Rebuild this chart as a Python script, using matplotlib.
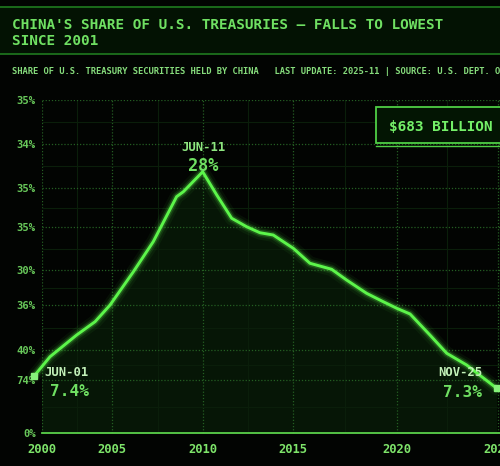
import matplotlib
matplotlib.use("Agg")
import matplotlib.pyplot as plt
from matplotlib.patches import Rectangle
from matplotlib.lines import Line2D
import numpy as np

# ---------------- data ----------------
years = [1999.58, 2000.44, 2001.90, 2002.91, 2003.73, 2005.01, 2006.10, 2007.38,
         2007.75, 2008.81, 2009.58, 2010.40, 2011.22, 2011.95, 2012.68, 2013.78,
         2014.69, 2015.88, 2016.70, 2017.80, 2018.71, 2019.45, 2020.18, 2021.27,
         2022.19, 2023.28, 2024.93]
share = [6.02, 8.02, 10.30, 11.70, 13.45, 16.95, 20.11, 24.84,
         25.36, 27.46, 25.02, 22.57, 21.68, 21.05, 20.81, 19.41,
         17.84, 17.21, 16.08, 14.68, 13.80, 13.11, 12.51, 10.30,
         8.38, 7.15, 4.70]
x_tick_pos = [2000, 2003.84, 2008.83, 2013.77, 2019.46, 2025]
x_tick_labels = ["2000", "2005", "2010", "2015", "2020", "2025"]
y_tick_pos = [35, 30.38, 25.75, 21.65, 17.13, 13.45, 8.72, 5.57, 0]
y_tick_labels = ["35%", "34%", "35%", "35%", "30%", "36%", "40%", "74%", "0%"]
title = "CHINA'S SHARE OF U.S. TREASURIES \u2014 FALLS TO LOWEST\nSINCE 2001"
subtitle = ("SHARE OF U.S. TREASURY SECURITIES HELD BY CHINA   "
            "LAST UPDATE: 2025-11 | SOURCE: U.S. DEPT. OF THE TREASURY")
callout = "$683 BILLION"
start_label, start_value = "JUN-01", "7.4%"
peak_label, peak_value = "JUN-11", "28%"
end_label, end_value = "NOV-25", "7.3%"

# ---------------- style ----------------
BG = "#020402"
LINE = "#5cf54a"
GRID = "#245e22"
MINOR = "#0a1e0a"
TXT = "#6fe062"
PALE = "#c2f0b8"
MONO = "DejaVu Sans Mono"

fig = plt.figure(figsize=(5.0, 4.66), dpi=100, facecolor=BG)

# title band
fig.add_artist(Rectangle((0, 0.884), 1, 0.101, transform=fig.transFigure,
                         facecolor="#031203", edgecolor="none", zorder=0))
for yy in (0.985, 0.884):
    fig.add_artist(Line2D([0, 1], [yy, yy], transform=fig.transFigure,
                          color="#1f7a1f", lw=1.2))
fig.text(0.024, 0.929, title, family=MONO, fontsize=10.4, color=TXT,
         fontweight="bold", ha="left", va="center", linespacing=1.12)
fig.text(0.024, 0.8455, subtitle, family=MONO, fontsize=6.3, color="#86dc7c",
         fontweight="bold", ha="left", va="center")

# axes
ax = fig.add_axes([0.084, 0.0708, 0.936, 0.7146])
ax.set_facecolor(BG)
ax.set_xlim(2000, 2025.66)
ax.set_ylim(0, 35)

# minor grid (faint, solid)
xm = [(a + b) / 2 for a, b in zip(x_tick_pos[:-1], x_tick_pos[1:])]
ym = [(a + b) / 2 for a, b in zip(y_tick_pos[1:], y_tick_pos[:-1])]
ax.set_xticks(xm, minor=True)
ax.set_yticks(ym, minor=True)
ax.grid(which="minor", color=MINOR, lw=0.8, ls="-")
ax.set_xticks(x_tick_pos, x_tick_labels)
ax.set_yticks(y_tick_pos, y_tick_labels)
ax.grid(which="major", color=GRID, lw=0.9, ls=(0, (1, 1.5)))
ax.tick_params(which="both", length=0)
ax.tick_params(axis="x", pad=7, labelcolor="#7ee46a", labelsize=8.7)
ax.tick_params(axis="y", pad=4.5, labelcolor="#68c85a", labelsize=7.6)
for lab in ax.get_xticklabels():
    lab.set_family(MONO); lab.set_fontweight("bold")
for lab in ax.get_yticklabels():
    lab.set_family(MONO); lab.set_fontweight("bold")
for s in ("top", "right", "left"):
    ax.spines[s].set_visible(False)
ax.spines["bottom"].set_color("#5ad04a")
ax.spines["bottom"].set_linestyle((0, (1, 1)))
ax.spines["bottom"].set_linewidth(1.3)

# area fill
ax.fill_between(years, share, 0, color="#0f3a0f", alpha=0.35, lw=0, zorder=1)

# glow line
for lw, a in ((10, 0.05), (6.5, 0.10), (4.2, 0.22)):
    ax.plot(years, share, color=LINE, lw=lw, alpha=a, clip_on=False,
            solid_capstyle="round", solid_joinstyle="round", zorder=3)
ax.plot(years, share, color=LINE, lw=2.1, clip_on=False,
        solid_joinstyle="round", zorder=4)
ax.plot([years[0], years[-1]], [share[0], share[-1]], ls="none", marker="s",
        ms=5, color="#86f27a", clip_on=False, zorder=5)

# annotations
i_peak = int(np.argmax(share))
def ann(txt, xy, off, size, color, ha, weight="bold"):
    ax.annotate(txt, xy=xy, xytext=off, textcoords="offset pixels",
                ha=ha, va="center", fontsize=size, color=color,
                family=MONO, fontweight=weight, annotation_clip=False, zorder=6)

ann(start_label, (years[0], share[0]), (10, 3), 8.8, PALE, "left")
ann(start_value, (years[0], share[0]), (16, -16), 11.6, TXT, "left")
ann(peak_label, (years[i_peak], share[i_peak]), (1, 24), 8.8, "#8ee680", "center")
ann(peak_value, (years[i_peak], share[i_peak]), (1, 6), 12.2, TXT, "center")
ann(end_label, (years[-1], share[-1]), (-14, 16), 8.8, PALE, "right")
ann(end_value, (years[-1], share[-1]), (-15, -4), 11.6, TXT, "right")

# callout box
fig.add_artist(Rectangle((0.752, 0.693), 0.30, 0.077, transform=fig.transFigure,
                         facecolor="#031503", edgecolor="#4fcf45", lw=1.3, zorder=5))
fig.add_artist(Line2D([0.752, 1.0], [0.6867, 0.6867], transform=fig.transFigure,
                      color="#4fcf45", lw=1.0, zorder=5))
fig.text(0.778, 0.7275, callout, family=MONO, fontsize=10.4, fontweight="bold",
         color="#74f068", ha="left", va="center", zorder=6)

fig.savefig("out.png", dpi=100, facecolor=BG)
